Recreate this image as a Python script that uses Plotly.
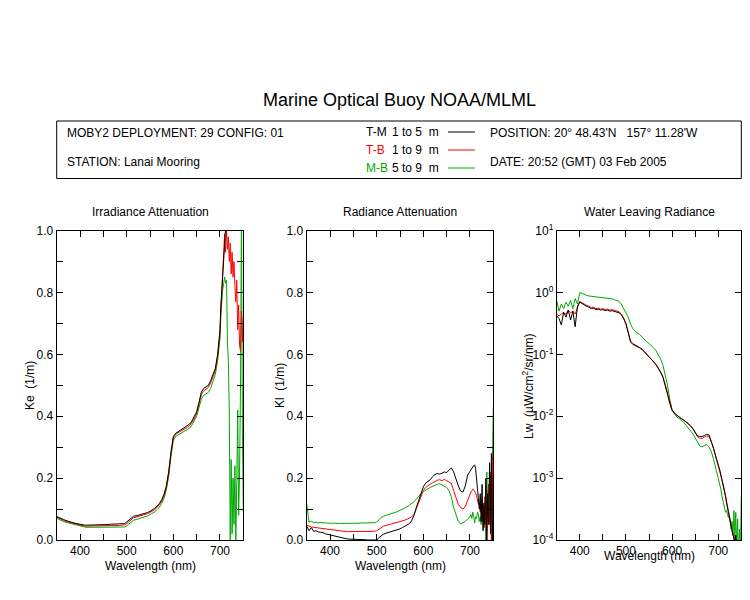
import plotly.graph_objects as go

# wavelength grid (nm)
WL = [350, 355, 360, 365, 370, 375, 380, 385, 390, 395,
      400, 405, 410, 415, 420, 425, 430, 435, 440, 445,
      450, 455, 460, 465, 470, 475, 480, 485, 490, 495,
      500, 505, 510, 515, 520, 525, 530, 535, 540, 545,
      550, 555, 560, 565, 570, 575, 580, 585, 590, 595,
      600, 605, 610, 615, 620, 625, 630, 635, 640, 645,
      650, 655, 660, 665, 670, 675, 680, 685, 690, 695,
      700, 702, 704, 706, 708, 710, 712, 714, 716, 718,
      720, 722, 724, 726, 728, 730, 732, 734, 736, 738,
      740, 742, 744, 746, 748, 750]

# Irradiance attenuation Ke (1/m)
KE_TM = [0.076, 0.072, 0.068, 0.066, 0.063, 0.060, 0.058, 0.056, 0.054, 0.052,
         0.050, 0.049, 0.048, 0.048, 0.048, 0.048, 0.048, 0.048, 0.049, 0.049,
         0.050, 0.050, 0.050, 0.051, 0.051, 0.051, 0.051, 0.051, 0.052, 0.053,
         0.058, 0.064, 0.072, 0.077, 0.078, 0.080, 0.081, 0.083, 0.086, 0.089,
         0.093, 0.097, 0.102, 0.110, 0.118, 0.130, 0.148, 0.175, 0.220, 0.285,
         0.335, 0.345, 0.350, 0.355, 0.360, 0.364, 0.368, 0.375, 0.385, 0.398,
         0.415, 0.445, 0.478, 0.490, 0.495, 0.500, 0.515, 0.535, 0.555, 0.600,
         0.680, 0.760, 0.820, 0.880, 0.960, 1.030, 1.100, 1.150, 1.200, 1.250,
         1.300, 1.300, 1.300, 1.300, 1.300, 1.300, 1.300, 1.300, 1.300, 1.300,
         1.300, 1.300, 1.300, 1.300, 1.300, 1.300]
KE_TB = [0.074, 0.070, 0.066, 0.063, 0.060, 0.058, 0.056, 0.054, 0.052, 0.050,
         0.047, 0.046, 0.045, 0.045, 0.045, 0.045, 0.045, 0.045, 0.046, 0.046,
         0.046, 0.046, 0.046, 0.047, 0.047, 0.047, 0.047, 0.047, 0.048, 0.049,
         0.053, 0.059, 0.067, 0.072, 0.074, 0.076, 0.077, 0.079, 0.082, 0.085,
         0.089, 0.093, 0.098, 0.106, 0.114, 0.126, 0.143, 0.170, 0.215, 0.280,
         0.330, 0.342, 0.347, 0.352, 0.356, 0.360, 0.364, 0.370, 0.380, 0.392,
         0.410, 0.438, 0.470, 0.482, 0.487, 0.493, 0.508, 0.528, 0.548, 0.595,
         0.670, 0.750, 0.820, 0.880, 0.950, 0.990, 0.930, 1.000, 0.940, 0.980,
         0.900, 0.960, 0.860, 0.930, 0.850, 0.900, 0.820, 0.770, 0.840, 0.680,
         0.760, 0.630, 0.610, 0.740, 0.640, 0.720]
KE_MB = [0.070, 0.066, 0.062, 0.060, 0.057, 0.055, 0.052, 0.050, 0.048, 0.046,
         0.044, 0.043, 0.042, 0.041, 0.041, 0.041, 0.041, 0.040, 0.040, 0.040,
         0.040, 0.040, 0.040, 0.040, 0.040, 0.040, 0.040, 0.040, 0.041, 0.042,
         0.046, 0.052, 0.060, 0.064, 0.066, 0.068, 0.070, 0.072, 0.075, 0.078,
         0.082, 0.086, 0.091, 0.098, 0.106, 0.118, 0.135, 0.162, 0.205, 0.270,
         0.322, 0.335, 0.340, 0.345, 0.349, 0.353, 0.357, 0.362, 0.372, 0.385,
         0.400, 0.428, 0.455, 0.468, 0.472, 0.477, 0.490, 0.510, 0.535, 0.580,
         0.650, 0.730, 0.790, 0.810, 0.830, 0.850, 0.830, 0.840, 0.640, 0.580,
         0.410, 0.000, 0.260, 0.020, 0.200, 0.050, 0.240, 0.000, 0.190, 0.420,
         0.080, 0.220, 0.500, 1.050, 0.370, 0.090]

# Radiance attenuation Kl (1/m)
KL_TM = [0.045, 0.030, 0.040, 0.028, 0.030, 0.026, 0.025, 0.024, 0.020, 0.018,
         0.016, 0.014, 0.012, 0.010, 0.008, 0.006, 0.005, 0.004, 0.003, 0.003,
         0.002, 0.002, 0.002, 0.001, 0.001, 0.001, 0.000, 0.000, 0.000, 0.000,
         0.000, 0.008, 0.015, 0.019, 0.022, 0.024, 0.026, 0.028, 0.030, 0.032,
         0.036, 0.040, 0.044, 0.048, 0.053, 0.062, 0.080, 0.105, 0.128, 0.152,
         0.172, 0.184, 0.190, 0.195, 0.205, 0.212, 0.215, 0.213, 0.216, 0.220,
         0.218, 0.225, 0.233, 0.220, 0.196, 0.175, 0.158, 0.155, 0.175, 0.210,
         0.222, 0.228, 0.232, 0.236, 0.240, 0.243, 0.232, 0.205, 0.170, 0.135,
         0.100, 0.150, 0.060, 0.180, 0.030, 0.120, 0.050, 0.200, 0.000, 0.150,
         0.050, 0.250, 0.020, 0.280, 0.000, 0.200]
KL_TB = [0.048, 0.044, 0.042, 0.041, 0.040, 0.038, 0.037, 0.036, 0.035, 0.033,
         0.032, 0.031, 0.030, 0.029, 0.028, 0.028, 0.027, 0.027, 0.027, 0.027,
         0.027, 0.027, 0.027, 0.027, 0.027, 0.027, 0.027, 0.027, 0.027, 0.028,
         0.030, 0.036, 0.042, 0.045, 0.047, 0.049, 0.050, 0.052, 0.054, 0.056,
         0.058, 0.061, 0.064, 0.067, 0.070, 0.075, 0.082, 0.100, 0.120, 0.142,
         0.160, 0.170, 0.177, 0.181, 0.185, 0.190, 0.193, 0.195, 0.192, 0.196,
         0.191, 0.188, 0.183, 0.160, 0.135, 0.115, 0.105, 0.100, 0.108, 0.130,
         0.150, 0.155, 0.160, 0.165, 0.162, 0.158, 0.152, 0.145, 0.130, 0.115,
         0.120, 0.090, 0.130, 0.060, 0.110, 0.040, 0.140, 0.080, 0.000, 0.120,
         0.180, 0.050, 0.220, 0.000, 0.270, 0.100]
KL_MB = [0.118, 0.058, 0.060, 0.056, 0.058, 0.055, 0.057, 0.055, 0.056, 0.054,
         0.055, 0.053, 0.055, 0.053, 0.054, 0.053, 0.053, 0.054, 0.053, 0.054,
         0.054, 0.054, 0.054, 0.054, 0.055, 0.055, 0.055, 0.055, 0.055, 0.056,
         0.058, 0.066, 0.073, 0.077, 0.080, 0.083, 0.085, 0.087, 0.089, 0.092,
         0.096, 0.099, 0.103, 0.107, 0.112, 0.118, 0.124, 0.132, 0.142, 0.150,
         0.156, 0.162, 0.166, 0.170, 0.174, 0.178, 0.180, 0.182, 0.178, 0.175,
         0.170, 0.160, 0.140, 0.105, 0.080, 0.060, 0.052, 0.055, 0.060, 0.068,
         0.075, 0.082, 0.070, 0.090, 0.078, 0.055, 0.075, 0.070, 0.090, 0.085,
         0.060, 0.075, 0.050, 0.095, 0.060, 0.040, 0.080, 0.000, 0.220, 0.100,
         0.180, 0.050, 0.200, 0.000, 0.250, 0.430]

# Water leaving radiance Lw (uW/cm^2/sr/nm)
LW_TM = [0.42, 0.38, 0.30, 0.48, 0.40, 0.52, 0.36, 0.50, 0.28, 0.60,
         0.70, 0.66, 0.62, 0.60, 0.58, 0.55, 0.56, 0.53, 0.54, 0.52,
         0.53, 0.51, 0.52, 0.50, 0.51, 0.50, 0.49, 0.47, 0.44, 0.38,
         0.31, 0.22, 0.16, 0.145, 0.14, 0.135, 0.128, 0.12, 0.11, 0.10,
         0.092, 0.084, 0.076, 0.068, 0.060, 0.052, 0.043, 0.032, 0.023, 0.016,
         0.0125, 0.0112, 0.0104, 0.0097, 0.0092, 0.0087, 0.0081, 0.0076, 0.0070, 0.0063,
         0.0054, 0.0048, 0.0047, 0.0047, 0.0049, 0.0051, 0.0050, 0.0040, 0.0030, 0.0022,
         0.0017, 0.0015, 0.0013, 0.0011, 0.00095, 0.00082, 0.00074, 0.00062, 0.00050, 0.00040,
         0.00033, 0.00028, 0.00022, 0.00019, 0.00016, 0.00014, 0.00012, 0.00011, 0.000085, 0.00012,
         0.00007, 0.00009, 0.00005, 0.00004, 0.00003, 0.00003]
LW_TB = [0.45, 0.42, 0.45, 0.48, 0.44, 0.52, 0.47, 0.50, 0.45, 0.55,
         0.72, 0.68, 0.64, 0.62, 0.60, 0.57, 0.58, 0.55, 0.56, 0.54,
         0.55, 0.53, 0.54, 0.52, 0.53, 0.52, 0.51, 0.49, 0.45, 0.39,
         0.32, 0.23, 0.165, 0.15, 0.143, 0.138, 0.13, 0.122, 0.112, 0.102,
         0.094, 0.086, 0.077, 0.069, 0.061, 0.053, 0.044, 0.033, 0.024, 0.017,
         0.0126, 0.0113, 0.0104, 0.0097, 0.0092, 0.0087, 0.0082, 0.0077, 0.0071, 0.0064,
         0.0055, 0.0047, 0.0044, 0.0044, 0.0046, 0.0048, 0.0047, 0.0039, 0.0030, 0.0022,
         0.0017, 0.0015, 0.0013, 0.0011, 0.00095, 0.00083, 0.00072, 0.00060, 0.00049, 0.00039,
         0.00032, 0.00028, 0.00023, 0.00019, 0.00016, 0.00013, 0.00011, 0.00010, 0.00008, 0.00007,
         0.00005, 0.00004, 0.00004, 0.00003, 0.00003, 0.00003]
LW_MB = [0.75, 0.50, 0.65, 0.55, 0.70, 0.60, 0.75, 0.55, 0.80, 0.65,
         1.00, 0.96, 0.93, 0.90, 0.88, 0.87, 0.86, 0.85, 0.84, 0.84,
         0.83, 0.83, 0.82, 0.80, 0.79, 0.77, 0.75, 0.72, 0.65, 0.56,
         0.47, 0.40, 0.31, 0.26, 0.24, 0.22, 0.21, 0.19, 0.175, 0.16,
         0.15, 0.14, 0.128, 0.115, 0.10, 0.085, 0.068, 0.048, 0.032, 0.019,
         0.0128, 0.011, 0.0098, 0.0092, 0.0086, 0.0080, 0.0072, 0.0065, 0.0058, 0.0052,
         0.0045, 0.0039, 0.0033, 0.0032, 0.0034, 0.0035, 0.0032, 0.0027, 0.0020, 0.0014,
         0.0010, 0.00088, 0.00078, 0.00065, 0.00052, 0.00042, 0.00036, 0.00032, 0.00028, 0.00030,
         0.00026, 0.00023, 0.00025, 0.00019, 0.00015, 0.00020, 0.00012, 0.00030, 0.00010, 0.00028,
         0.00007, 0.00022, 0.00005, 0.00015, 0.00005, 0.0005]

SERIES_NAMES = ["T-M", "T-B", "M-B"]
SERIES_DEPTHS = ["1 to 5  m", "1 to 9  m", "5 to 9  m"]
SERIES_COLORS = ["#000000", "#FF0000", "#00A800"]

# the page body has an 8px margin; keep the figure inside the 750x600 window
OFF = 8
W, H = 750 - 2 * OFF, 600 - 2 * OFF
FONT = "Liberation Sans, Arial, sans-serif"


def px(x):
    # window pixel -> paper fraction
    return (x - OFF) / W


def py(y):
    return 1 - (y - OFF) / H


fig = go.Figure()

panels = [
    ("x", "y", [KE_TM, KE_TB, KE_MB]),
    ("x2", "y2", [KL_TM, KL_TB, KL_MB]),
    ("x3", "y3", [LW_TM, LW_TB, LW_MB]),
]
# draw green first, black on top
for xa, ya, vals in panels:
    for i in [2, 1, 0]:
        fig.add_trace(go.Scatter(
            x=WL, y=vals[i], mode="lines",
            line=dict(color=SERIES_COLORS[i], width=1),
            xaxis=xa, yaxis=ya, showlegend=False, hoverinfo="skip",
        ))

# panel pixel boxes (left, right)
PANEL_X = [(56.7, 243.3), (306.7, 493.3), (556.7, 741.3)]
TOP, BOTTOM = 230.7, 540

tick_font = dict(family=FONT, size=12, color="black")


def xaxis_cfg(i):
    l, r = PANEL_X[i]
    return dict(
        domain=[px(l), px(r)], range=[350, 750], anchor=["y", "y2", "y3"][i],
        showline=True, mirror="ticks", linecolor="black", linewidth=1,
        ticks="inside", ticklen=6, tickcolor="black",
        tickvals=[350, 400, 450, 500, 550, 600, 650, 700, 750],
        ticktext=["", "400", "", "500", "", "600", "", "700", ""],
        tickfont=tick_font, showgrid=False, zeroline=False, automargin=False,
    )


lin_y = dict(
    domain=[py(BOTTOM), py(TOP)], range=[0, 1],
    showline=True, mirror="ticks", linecolor="black", linewidth=1,
    ticks="inside", ticklen=6, tickcolor="black",
    tickvals=[0, 0.1, 0.2, 0.3, 0.4, 0.5, 0.6, 0.7, 0.8, 0.9, 1.0],
    ticktext=["0.0", "", "0.2", "", "0.4", "", "0.6", "", "0.8", "", "1.0"],
    tickfont=tick_font, showgrid=False, zeroline=False, automargin=False,
)

fig.update_layout(
    width=W, height=H,
    margin=dict(l=0, r=0, t=0, b=0),
    paper_bgcolor="white", plot_bgcolor="white",
    font=dict(family=FONT, color="black"),
    xaxis=xaxis_cfg(0), xaxis2=xaxis_cfg(1), xaxis3=xaxis_cfg(2),
    yaxis=dict(lin_y, anchor="x"),
    yaxis2=dict(lin_y, anchor="x2"),
    yaxis3=dict(
        domain=[py(BOTTOM), py(TOP)], type="log", range=[-4, 1], anchor="x3",
        showline=True, mirror="ticks", linecolor="black", linewidth=1,
        ticks="inside", ticklen=6, tickcolor="black",
        tickvals=[1e-4, 1e-3, 1e-2, 1e-1, 1, 10],
        ticktext=["10<sup>-4</sup>", "10<sup>-3</sup>", "10<sup>-2</sup>",
                  "10<sup>-1</sup>", "10<sup>0</sup>", "10<sup>1</sup>"],
        tickfont=tick_font, showgrid=False, zeroline=False, automargin=False,
    ),
)

# header
fig.add_annotation(x=px(399), y=py(100), xref="paper", yref="paper",
                   text="Marine Optical Buoy NOAA/MLML", showarrow=False,
                   font=dict(family=FONT, size=18), xanchor="center", yanchor="middle")
fig.add_shape(type="rect", xref="paper", yref="paper",
              x0=px(56.7), x1=px(741.3), y0=py(178.5), y1=py(121),
              line=dict(color="black", width=1))

info = [
    (65, 133, "MOBY2 DEPLOYMENT: 29 CONFIG: 01"),
    (65, 162, "STATION: Lanai Mooring"),
    (488, 133, "POSITION: 20\u00b0 48.43'N \u00a0 157\u00b0 11.28'W"),
    (488, 162, "DATE: 20:52 (GMT) 03 Feb 2005"),
]
for x, y, t in info:
    fig.add_annotation(x=px(x), y=py(y), xref="paper", yref="paper", text=t,
                       showarrow=False, font=dict(family=FONT, size=12),
                       xanchor="left", yanchor="middle")

for i, row_y in enumerate([132, 150, 168]):
    fig.add_annotation(x=px(364), y=py(row_y), xref="paper", yref="paper",
                       text=SERIES_NAMES[i], showarrow=False,
                       font=dict(family=FONT, size=12, color=SERIES_COLORS[i]),
                       xanchor="left", yanchor="middle")
    fig.add_annotation(x=px(390), y=py(row_y), xref="paper", yref="paper",
                       text=SERIES_DEPTHS[i].replace(" ", "\u00a0"), showarrow=False,
                       font=dict(family=FONT, size=12),
                       xanchor="left", yanchor="middle")
    fig.add_shape(type="line", xref="paper", yref="paper",
                  x0=px(448), x1=px(475), y0=py(row_y), y1=py(row_y),
                  line=dict(color=SERIES_COLORS[i], width=1))

# panel titles and axis titles
titles = ["Irradiance Attenuation", "Radiance Attenuation", "Water Leaving Radiance"]
ytitles = ["Ke\u00a0 (1/m)", "Kl\u00a0 (1/m)", "Lw\u00a0 (\u00b5W/cm<sup>2</sup>/sr/nm)"]
ytitle_x = [30, 280, 528]
xtitle_y = [566, 566, 556]
for i, (l, r) in enumerate(PANEL_X):
    cx = (l + r) / 2
    fig.add_annotation(x=px(cx), y=py(212), xref="paper", yref="paper",
                       text=titles[i], showarrow=False,
                       font=dict(family=FONT, size=12),
                       xanchor="center", yanchor="middle")
    fig.add_annotation(x=px(cx), y=py(xtitle_y[i]), xref="paper", yref="paper",
                       text="Wavelength (nm)", showarrow=False,
                       font=dict(family=FONT, size=12),
                       xanchor="center", yanchor="middle")
    fig.add_annotation(x=px(ytitle_x[i]), y=py(386), xref="paper", yref="paper",
                       text=ytitles[i], showarrow=False, textangle=-90,
                       font=dict(family=FONT, size=12),
                       xanchor="center", yanchor="middle")

fig.write_html("out.html")
